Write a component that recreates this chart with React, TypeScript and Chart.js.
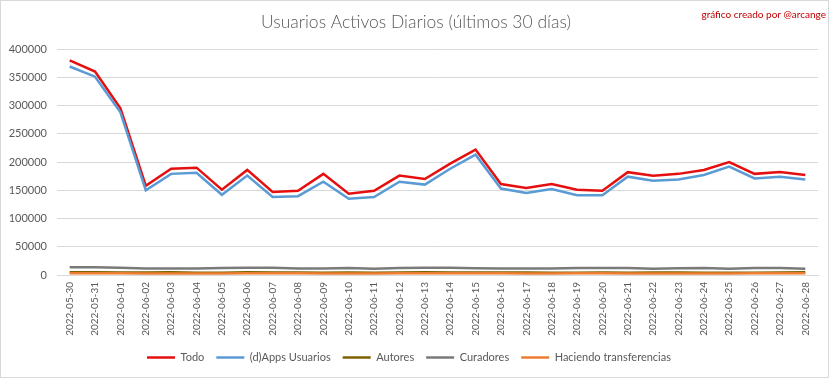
import React, { useEffect, useRef } from "react";
import { Chart, registerables } from "chart.js";

Chart.register(...registerables);

const dates = [
  "2022-05-30", "2022-05-31", "2022-06-01", "2022-06-02", "2022-06-03", "2022-06-04",
  "2022-06-05", "2022-06-06", "2022-06-07", "2022-06-08", "2022-06-09", "2022-06-10",
  "2022-06-11", "2022-06-12", "2022-06-13", "2022-06-14", "2022-06-15", "2022-06-16",
  "2022-06-17", "2022-06-18", "2022-06-19", "2022-06-20", "2022-06-21", "2022-06-22",
  "2022-06-23", "2022-06-24", "2022-06-25", "2022-06-26", "2022-06-27", "2022-06-28",
];

const todo = [
  380000, 360000, 295000, 158000, 188000, 190000, 151000, 186000, 147000, 149000,
  179000, 144000, 149000, 176000, 170000, 197000, 222000, 161000, 154000, 161000,
  151000, 149000, 182000, 175500, 179000, 186000, 200000, 179000, 182500, 177000,
];

const dapps = [
  369000, 351000, 288000, 150000, 179000, 181000, 142000, 176000, 138000, 139500,
  165000, 135000, 138000, 165000, 160000, 188000, 213000, 153000, 145000, 152000,
  141000, 141000, 174000, 167000, 169000, 177000, 192000, 171000, 174000, 169000,
];

const autores = [
  5000, 5000, 4500, 4500, 5000, 4000, 4000, 5000, 4500, 4500,
  4000, 4500, 4000, 4500, 5000, 4500, 4500, 4500, 4500, 4000,
  4000, 4500, 4000, 4500, 4500, 4000, 4000, 4000, 4500, 5000,
];

const curadores = [
  13500, 13500, 13000, 11500, 11500, 11500, 12500, 13000, 13000, 11500,
  11500, 12500, 11000, 12500, 13000, 13000, 12000, 11500, 11500, 11500,
  12500, 12500, 12500, 11000, 12000, 12500, 11000, 12500, 12500, 11000,
];

const transferencias = [
  3000, 3000, 3000, 2500, 2500, 2500, 2500, 3000, 3000, 3000,
  2500, 2500, 2500, 3000, 3000, 3000, 3000, 3000, 2500, 2500,
  3000, 3000, 2500, 2500, 2500, 2500, 2500, 3000, 3000, 3000,
];

const yTicks = [0, 50000, 100000, 150000, 200000, 250000, 300000, 350000, 400000];

const TITLE = "Usuarios Activos Diarios (últimos 30 días)";
const CREDIT = "gráfico creado por @arcange";
const FONT = "Lato, 'Liberation Sans', sans-serif";
const TEXT = "#595959";

const PLOT_BOTTOM = 275;
const PAD_BOTTOM = 6;

const textPlugin = {
  id: "textPlugin",
  afterLayout(chart: any) {
    // let rotated x labels extend below the axis box without clipping
    const x = chart.scales.x;
    if (x) x.bottom = chart.height;
  },
  afterDraw(chart: any) {
    const ctx = chart.ctx;
    ctx.save();
    ctx.fillStyle = TEXT;
    ctx.font = `300 17.5px ${FONT}`;
    ctx.textAlign = "center";
    ctx.textBaseline = "middle";
    ctx.fillText(TITLE, 416, 22);
    ctx.fillStyle = "#c00000";
    ctx.font = `10px ${FONT}`;
    ctx.textAlign = "right";
    ctx.fillText(CREDIT, 826, 15);
    ctx.restore();
  },
};

export default function App() {
  const ref = useRef<HTMLCanvasElement>(null);

  useEffect(() => {
    document.body.style.margin = "0";
    const mk = (label: string, data: number[], color: string, order: number, width = 2.5) => ({
      label,
      data,
      borderColor: color,
      backgroundColor: color,
      borderWidth: width,
      pointRadius: 0,
      tension: 0,
      order,
    });
    const chart = new Chart(ref.current!, {
      type: "line",
      data: {
        labels: dates,
        datasets: [
          mk("Todo", todo, "#e60f0f", 5),
          mk("(d)Apps Usuarios", dapps, "#5b9bd5", 4),
          mk("Autores", autores, "#7f6000", 3),
          mk("Curadores", curadores, "#7a7a7a", 2),
          mk("Haciendo transferencias", transferencias, "#ed7d31", 1),
        ],
      },
      options: {
        animation: false,
        responsive: true,
        maintainAspectRatio: false,
        layout: { padding: { top: 49, left: 0, right: 15, bottom: PAD_BOTTOM } },
        plugins: {
          title: { display: false },
          tooltip: { enabled: false },
          legend: {
            position: "bottom",
            labels: {
              font: { family: FONT, size: 11 },
              color: TEXT,
              usePointStyle: true,
              pointStyle: "line",
              pointStyleWidth: 28,
              padding: 12,
              sort: (a: any, b: any) => a.datasetIndex - b.datasetIndex,
            },
          },
        },
        scales: {
          x: {
            offset: true,
            grid: { display: false, drawTicks: false },
            border: { display: true, color: "#d9d9d9" },
            ticks: {
              autoSkip: false,
              minRotation: 90,
              maxRotation: 90,
              padding: 7,
              color: TEXT,
              font: { family: FONT, size: 10 },
            },
            afterFit(scale: any) {
              const leg = scale.chart.legend;
              const lh = leg ? leg.height : 0;
              scale.height = scale.chart.height - PLOT_BOTTOM - lh - PAD_BOTTOM;
            },
          },
          y: {
            min: 0,
            max: 400000,
            afterBuildTicks(scale: any) {
              scale.ticks = yTicks.map((v) => ({ value: v }));
            },
            grid: { color: "#d9d9d9", lineWidth: 1, drawTicks: false },
            border: { display: false },
            ticks: {
              padding: 10,
              color: TEXT,
              font: { family: FONT, size: 11 },
              callback: (v: any) => String(v),
            },
            afterFit(scale: any) {
              scale.width = 57;
            },
          },
        },
      },
      plugins: [textPlugin],
    });
    return () => chart.destroy();
  }, []);

  return (
    <div
      style={{
        position: "absolute",
        left: 0,
        top: 0,
        width: 833,
        height: 379,
        background: "#fff",
      }}
    >
      <div
        style={{
          position: "absolute",
          left: 0,
          top: 0,
          width: 829,
          height: 378,
          border: "1px solid #d9d9d9",
          boxSizing: "border-box",
          pointerEvents: "none",
        }}
      />
      <canvas ref={ref} width={833} height={379} />
    </div>
  );
}
